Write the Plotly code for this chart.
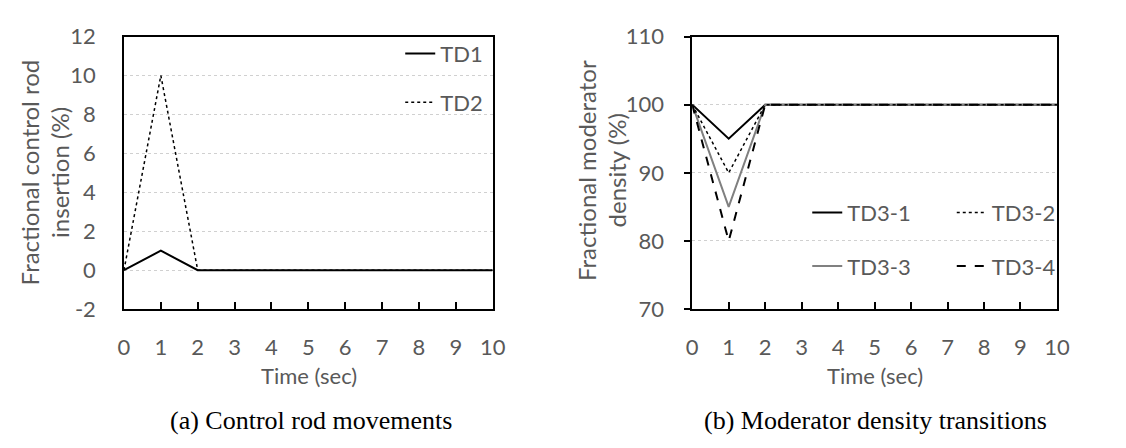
import plotly.graph_objects as go

# ---- data ----
time = [0, 1, 2, 10]
td1 = [0, 1, 0, 0]
td2 = [0, 10, 0, 0]
td3_1 = [100, 95, 100, 100]
td3_2 = [100, 90, 100, 100]
td3_3 = [100, 85, 100, 100]
td3_4 = [100, 80, 100, 100]
x_ticks = list(range(0, 11))
y_ticks_a = list(range(-2, 13, 2))
y_ticklabels_a = ["-2", "0", "2", "4", "6", "8", "10", "12"]
y_ticks_b = [70, 80, 90, 100, 110]

FONT = "Lato"
TXT = "#595959"
W, H = 1126, 448
FS = 22

fig = go.Figure()

def tr(x, y, name, xa, ya, legend, group, color="black", dash="solid", width=2):
    fig.add_trace(go.Scatter(x=x, y=y, name=name, mode="lines", xaxis=xa, yaxis=ya,
                             line=dict(color=color, dash=dash, width=width),
                             legend=legend, legendgroup=group, showlegend=True))

tr(time, td1, "TD1", "x", "y", "legend", "g1", width=2)
tr(time, td2, "TD2", "x", "y", "legend", "g2", dash="dot", width=1.5)
tr(time, td3_1, "TD3-1", "x2", "y2", "legend2", "h1", width=2)
tr(time, td3_3, "TD3-3", "x2", "y2", "legend2", "h3", color="#808080", width=2)
tr(time, td3_2, "TD3-2", "x2", "y2", "legend3", "h2", dash="dot", width=1.5)
tr(time, td3_4, "TD3-4", "x2", "y2", "legend3", "h4", dash="dash", width=2)

def px_x(p):
    return p / W

def px_y(p):
    return 1 - p / H

xdomA = [px_x(120), px_x(495)]
xdomB = [px_x(698), px_x(1069)]
ydom = [px_y(314), px_y(24)]

xcommon = dict(range=[0, 10], tickvals=x_ticks, ticks="inside", ticklen=7, tickwidth=1.5,
               tickcolor="black", showline=True, linecolor="black", linewidth=1.5,
               mirror=True, showgrid=False, zeroline=False, ticklabelstandoff=18,
               tickfont=dict(family=FONT, size=FS, color=TXT))
ycommon = dict(showline=True, linecolor="black", linewidth=1.5, mirror=True,
               showgrid=True, gridcolor="#d0d0d0", griddash="dot", gridwidth=1,
               zeroline=False, tickfont=dict(family=FONT, size=FS, color=TXT))

legfont = dict(family=FONT, size=FS, color=TXT)
leg_common = dict(traceorder="grouped", bgcolor="rgba(0,0,0,0)",
                  font=legfont, xanchor="left", yanchor="top", itemwidth=30)

fig.update_layout(
    width=W, height=H, margin=dict(l=0, r=0, t=0, b=0),
    paper_bgcolor="white", plot_bgcolor="white", showlegend=True,
    xaxis=dict(domain=xdomA, anchor="y", **xcommon),
    yaxis=dict(domain=ydom, anchor="x", range=[-2, 12], tickvals=y_ticks_a,
               ticktext=y_ticklabels_a, ticks="", ticklabelstandoff=22, **ycommon),
    xaxis2=dict(domain=xdomB, anchor="y2", **xcommon),
    yaxis2=dict(domain=ydom, anchor="x2", range=[70, 110], tickvals=y_ticks_b, ticks="outside",
                ticklen=6, tickwidth=1.5, tickcolor="black", ticklabelstandoff=16, **ycommon),
    legend=dict(x=px_x(401), y=px_y(20), tracegroupgap=17, **leg_common),
    legend2=dict(x=px_x(815), y=px_y(189), tracegroupgap=22, **leg_common),
    legend3=dict(x=px_x(962), y=px_y(189), tracegroupgap=22, **leg_common),
)

ann = []
def text(x, y, s, size=FS, angle=0, family=FONT, color=TXT):
    ann.append(dict(x=px_x(x), y=px_y(y), xref="paper", yref="paper", text=s, showarrow=False,
                    textangle=angle, font=dict(family=family, size=size, color=color),
                    xanchor="center", yanchor="middle"))

text(308, 385, "Time (sec)", size=22)
text(884, 385, "Time (sec)", size=22)
text(24, 169, "Fractional control rod", size=24, angle=-90)
text(55, 169, "insertion (%)", size=24, angle=-90)
text(591, 167, "Fractional moderator", size=24, angle=-90)
text(621, 167, "density (%)", size=24, angle=-90)
text(310, 433, "(a) Control rod movements", size=26, family="Liberation Serif", color="black")
text(884, 433, "(b) Moderator density transitions", size=26, family="Liberation Serif", color="black")
fig.update_layout(annotations=ann)

fig.write_html("out.html")
